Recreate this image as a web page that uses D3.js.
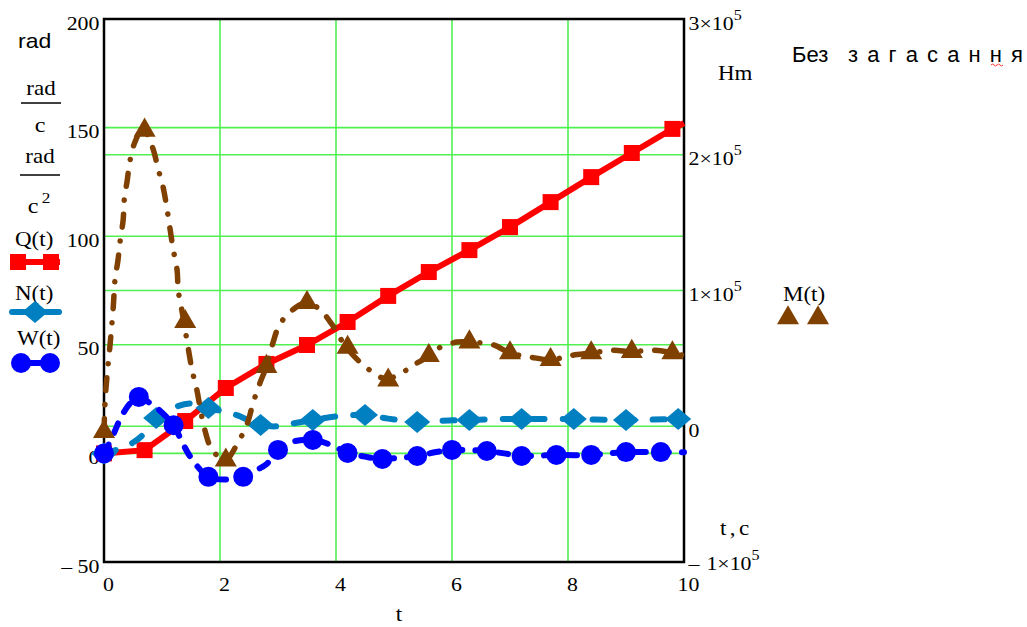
<!DOCTYPE html>
<html>
<head>
<meta charset="utf-8">
<script src="https://cdn.jsdelivr.net/npm/d3@7"></script>
<style>
  body { margin: 0; background: #fff; }
  text { font-family: "Liberation Serif", "Times New Roman", serif; fill: #000; }
  .sans { font-family: "Liberation Sans", Arial, sans-serif; }
</style>
</head>
<body>
<div id="chart"></div>
<script>
// Q(t), rad — line and square markers (every 0.7 s)
const qLine = [[0, 0], [0.7, 1.5], [1.4, 14.9], [2.1, 30.1], [2.8, 41.2], [3.5, 49.9], [4.2, 60.5],
  [4.9, 72.5], [5.6, 83.5], [6.3, 93.6], [7.0, 104.2], [7.7, 115.7], [8.4, 127.2], [9.1, 138.3],
  [9.8, 149.4], [10, 152]];
const qMarks = qLine.slice(0, 15);

// N(t), rad/c — dashed line and diamond markers (every 0.9 s)
const nLine = [[0, 0], [0.25, 2], [0.5, 5], [0.65, 8], [0.9, 16.3], [1.2, 21], [1.5, 23], [1.8, 20.9],
  [2.1, 19], [2.3, 17.5], [2.7, 13.1], [3.0, 12.5], [3.3, 14], [3.6, 15.4], [4.0, 17], [4.5, 17.7],
  [4.9, 16], [5.4, 14.5], [5.8, 15], [6.3, 15.4], [6.8, 15.8], [7.2, 15.8], [8.1, 15.8], [9.0, 15.4],
  [9.9, 15.8], [10, 15.8]];
const nMarks = [[0, 0], [0.9, 16.3], [1.8, 20.9], [2.7, 13.1], [3.6, 15.4], [4.5, 17.7], [5.4, 14.5],
  [6.3, 15.4], [7.2, 15.8], [8.1, 15.8], [9.0, 15.4], [9.9, 15.8]];

// W(t), rad/c^2 — dashed line and circle markers (every 0.6 s)
const wLine = [[0, 0], [0.15, 8], [0.3, 17], [0.45, 23], [0.6, 26], [0.8, 23], [0.95, 20], [1.2, 13],
  [1.35, 5], [1.5, -2], [1.8, -10.8], [2.1, -12], [2.4, -10.8], [2.6, -8], [2.8, -5], [3.0, 1.6],
  [3.2, 5], [3.6, 6.2], [3.9, 4], [4.2, 0.2], [4.5, -1.5], [4.8, -2.6], [5.1, -2], [5.4, -1.2],
  [5.7, 0.5], [6.0, 1.6], [6.3, 1.5], [6.6, 1.1], [6.9, 0], [7.2, -1.2], [7.5, -1], [7.8, -0.7],
  [8.1, -0.8], [8.4, -0.7], [8.7, 0], [9.0, 0.6], [9.3, 0.6], [9.6, 0.6], [10, 0.5]];
const wMarks = [[0, 0], [0.6, 26], [1.2, 13], [1.8, -10.8], [2.4, -10.8], [3.0, 1.6], [3.6, 6.2],
  [4.2, 0.2], [4.8, -2.6], [5.4, -1.2], [6.0, 1.6], [6.6, 1.1], [7.2, -1.2], [7.8, -0.7], [8.4, -0.7],
  [9.0, 0.6], [9.6, 0.6]];

// M(t), x10^5 Hm on the right axis — dash-dot line and triangle markers (every 0.7 s)
const mLine = [[0, -0.04], [0.02, 0.19], [0.05, 0.36], [0.1, 0.58], [0.16, 0.88], [0.19, 1.08],
  [0.24, 1.22], [0.28, 1.37], [0.33, 1.52], [0.35, 1.67], [0.4, 1.81], [0.45, 1.96], [0.53, 2.09],
  [0.67, 2.19], [0.84, 2.05], [0.93, 1.9], [1.02, 1.76], [1.09, 1.59], [1.14, 1.45], [1.19, 1.31],
  [1.26, 1.15], [1.28, 1.0], [1.34, 0.86], [1.38, 0.76], [1.45, 0.58], [1.52, 0.41], [1.6, 0.27],
  [1.66, 0.13], [1.74, -0.03], [1.86, -0.17], [2.09, -0.25], [2.31, -0.12], [2.47, 0.02],
  [2.57, 0.17], [2.69, 0.32], [2.8, 0.44], [2.91, 0.61], [3.03, 0.75], [3.26, 0.86], [3.5, 0.91],
  [3.72, 0.86], [3.93, 0.75], [4.18, 0.58], [4.53, 0.43], [4.86, 0.35], [5.16, 0.4], [5.33, 0.45],
  [5.62, 0.52], [5.79, 0.58], [6.09, 0.62], [6.31, 0.62], [6.71, 0.6], [7.0, 0.54], [7.34, 0.51],
  [7.72, 0.49], [8.03, 0.52], [8.41, 0.54], [8.78, 0.56], [9.1, 0.55], [9.47, 0.56], [9.81, 0.54],
  [10, 0.52]];
const mMarks = [[0, -0.04], [0.7, 2.18], [1.4, 0.77], [2.1, -0.25], [2.8, 0.44], [3.5, 0.91],
  [4.2, 0.58], [4.9, 0.34], [5.6, 0.52], [6.3, 0.62], [7.0, 0.54], [7.7, 0.49], [8.4, 0.54],
  [9.1, 0.55], [9.8, 0.54]];

const xTicks = [0, 2, 4, 6, 8, 10];
const leftTicks = [-50, 0, 50, 100, 150, 200];
const rightTicks = [-1, 0, 1, 2, 3];

const W = 1027, H = 627;
const box = { left: 104, right: 684, top: 19, bottom: 562 };
const colors = { q: "#ff0000", n: "#0080c0", w: "#0000ff", m: "#804000", grid: "#50f050" };

const svg = d3.select("#chart").append("svg").attr("width", W).attr("height", H);

const x = d3.scaleLinear().domain([0, 10]).range([box.left, box.right]);
const yL = d3.scaleLinear().domain([-50, 200]).range([box.bottom, box.top]);
const yR = d3.scaleLinear().domain([-1, 3]).range([box.bottom, box.top]);
const sx = 1.15; // Mathcad text is drawn a bit wide

// Grid lines
const grid = svg.append("g").attr("stroke", colors.grid).attr("stroke-width", 1.6);
grid.selectAll(".gx").data(xTicks.slice(1, -1)).enter().append("line")
  .attr("x1", d => x(d)).attr("x2", d => x(d)).attr("y1", box.top).attr("y2", box.bottom);
grid.selectAll(".gl").data(leftTicks.slice(1, -1)).enter().append("line")
  .attr("x1", box.left).attr("x2", box.right).attr("y1", d => yL(d)).attr("y2", d => yL(d));
grid.selectAll(".gr").data(rightTicks.slice(1, -1)).enter().append("line")
  .attr("x1", box.left).attr("x2", box.right).attr("y1", d => yR(d)).attr("y2", d => yR(d));

// Frame
svg.append("rect").attr("x", box.left).attr("y", box.top)
  .attr("width", box.right - box.left).attr("height", box.bottom - box.top)
  .attr("fill", "none").attr("stroke", "#000").attr("stroke-width", 2.5);

// Axes
const axL = svg.append("g").attr("transform", `translate(${box.left},0)`)
  .call(d3.axisLeft(yL).tickValues(leftTicks).tickSize(0).tickPadding(4)
    .tickFormat(d => d < 0 ? "\u2013 " + (-d) : d));
const axB = svg.append("g").attr("transform", `translate(0,${box.bottom})`)
  .call(d3.axisBottom(x).tickValues(xTicks).tickSize(0));
const axR = svg.append("g").attr("transform", `translate(${box.right},0)`)
  .call(d3.axisRight(yR).tickValues(rightTicks).tickSize(0).tickFormat(""));
[axL, axB, axR].forEach(a => {
  a.select(".domain").remove();
  a.selectAll("text").attr("font-family", null).attr("font-size", null).style("font-size", "19px");
});
axL.selectAll("text").attr("dy", 0).attr("y", 10).attr("transform", `scale(${sx},1)`);
axB.selectAll("text").attr("dy", 0).attr("y", 29).attr("x", 4 / sx).attr("transform", `scale(${sx},1)`);
axR.selectAll("text").attr("dy", 0).attr("y", d => d < 0 ? 7 : 10).attr("x", 4).attr("text-anchor", "start")
  .attr("transform", `scale(${sx},1)`)
  .each(function (d) {
    const t = d3.select(this);
    if (d === 0) { t.text("0"); return; }
    if (d < 0) {
      t.append("tspan").text("\u2013");
      t.append("tspan").attr("dx", 6).text(-d + "\u00d710");
    } else {
      t.append("tspan").text(d + "\u00d710");
    }
    t.append("tspan").attr("dy", -10).style("font-size", "14px").text("5");
  });

// Series
const lineL = d3.line().x(d => x(d[0])).y(d => yL(d[1]));
const lineR = d3.line().x(d => x(d[0])).y(d => yR(d[1]));
const diamond = "M-13,0L0,-11L13,0L0,11Z";

svg.append("path").datum(qLine).attr("d", lineL)
  .attr("fill", "none").attr("stroke", colors.q).attr("stroke-width", 6);
svg.selectAll(".qm").data(qMarks).enter().append("path")
  .attr("transform", d => `translate(${x(d[0])},${yL(d[1])})`)
  .attr("d", d3.symbol().type(d3.symbolSquare).size(256)).attr("fill", colors.q);

svg.append("path").datum(nLine).attr("d", lineL.curve(d3.curveCatmullRom))
  .attr("fill", "none").attr("stroke", colors.n).attr("stroke-width", 6)
  .attr("stroke-linecap", "round").attr("stroke-dasharray", "12,18");
svg.selectAll(".nm").data(nMarks).enter().append("path")
  .attr("transform", d => `translate(${x(d[0])},${yL(d[1])})`)
  .attr("d", diamond).attr("fill", colors.n);

svg.append("path").datum(wLine).attr("d", lineL.curve(d3.curveCatmullRom))
  .attr("fill", "none").attr("stroke", colors.w).attr("stroke-width", 6)
  .attr("stroke-linecap", "round").attr("stroke-dasharray", "10,13");
svg.selectAll(".wm").data(wMarks).enter().append("circle")
  .attr("cx", d => x(d[0])).attr("cy", d => yL(d[1])).attr("r", 10).attr("fill", colors.w);

svg.append("path").datum(mLine).attr("d", lineR.curve(d3.curveCatmullRom))
  .attr("fill", "none").attr("stroke", colors.m).attr("stroke-width", 5.5)
  .attr("stroke-linecap", "round").attr("stroke-dasharray", "13,14,0.1,14");
const tri = d3.symbol().type(d3.symbolTriangle).size(210);
svg.selectAll(".mm").data(mMarks).enter().append("path")
  .attr("transform", d => `translate(${x(d[0])},${yR(d[1])})`)
  .attr("d", tri).attr("fill", colors.m);

// Labels
function label(px, py, str, size, opts = {}) {
  const t = svg.append("text")
    .attr("transform", `translate(${px},${py}) scale(${opts.sx || sx},1)`)
    .attr("text-anchor", opts.anchor || "start")
    .style("font-size", size + "px").text(str);
  if (opts.cls) t.attr("class", opts.cls);
  return t;
}
label(18, 48, "rad", 20, { cls: "sans" });
label(41, 95, "rad", 20, { anchor: "middle" });
svg.append("line").attr("x1", 21).attr("x2", 61).attr("y1", 103).attr("y2", 103)
  .attr("stroke", "#000").attr("stroke-width", 1.6);
label(40, 132, "c", 21, { anchor: "middle" });
label(40, 163, "rad", 20, { anchor: "middle" });
svg.append("line").attr("x1", 20).attr("x2", 60).attr("y1", 175).attr("y2", 175)
  .attr("stroke", "#000").attr("stroke-width", 1.6);
label(33, 213, "c", 21, { anchor: "middle" });
label(46, 203, "2", 15, { anchor: "middle" });

label(15, 246, "Q(t)", 20);
svg.append("line").attr("x1", 12).attr("x2", 60).attr("y1", 262).attr("y2", 262)
  .attr("stroke", colors.q).attr("stroke-width", 6);
[18, 51].forEach(cx => svg.append("path").attr("transform", `translate(${cx},262)`)
  .attr("d", d3.symbol().type(d3.symbolSquare).size(256)).attr("fill", colors.q));

label(15, 300, "N(t)", 20);
svg.append("line").attr("x1", 12).attr("x2", 59).attr("y1", 312).attr("y2", 312)
  .attr("stroke", colors.n).attr("stroke-width", 6).attr("stroke-linecap", "round");
svg.append("path").attr("transform", "translate(35,312)").attr("d", diamond).attr("fill", colors.n);

label(17, 345, "W(t)", 20);
svg.append("line").attr("x1", 14).attr("x2", 58).attr("y1", 363).attr("y2", 363)
  .attr("stroke", colors.w).attr("stroke-width", 6);
[21, 50].forEach(cx => svg.append("circle").attr("cx", cx).attr("cy", 363).attr("r", 10)
  .attr("fill", colors.w));

label(783, 301, "M(t)", 20);
[788, 818].forEach(cx => svg.append("path").attr("transform", `translate(${cx},318)`)
  .attr("d", tri).attr("fill", colors.m));

label(718, 80, "Hm", 20);
label(720, 535, "t,c", 20).attr("letter-spacing", 3);
label(399, 621, "t", 20, { anchor: "middle" });

svg.append("text").attr("class", "sans").attr("x", 792).attr("y", 62)
  .style("font-size", "22px").text("Без");
svg.append("text").attr("class", "sans").attr("x", 848).attr("y", 62)
  .attr("textLength", 175).attr("lengthAdjust", "spacing")
  .style("font-size", "22px").text("з а г а с а н н я");
svg.append("path").attr("d", "M991,65 q1.5,-2 3,0 t3,0 t3,0 t3,0")
  .attr("fill", "none").attr("stroke", "#ff3030").attr("stroke-width", 1);
</script>
</body>
</html>
